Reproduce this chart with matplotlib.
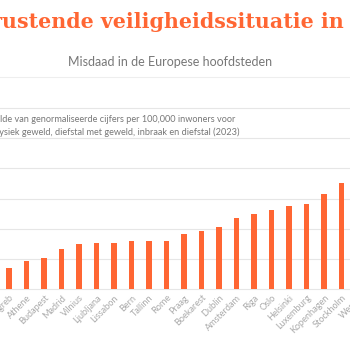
import matplotlib
matplotlib.use("Agg")
from matplotlib import pyplot as plt

cities = ["Zagreb", "Athene", "Budapest", "Madrid", "Vilnius", "Ljubljana",
          "Lissabon", "Bern", "Tallinn", "Rome", "Praag", "Boekarest", "Dublin",
          "Amsterdam", "Riga", "Oslo", "Helsinki", "Luxemburg", "Kopenhagen",
          "Stockholm", "Wenen"]
scores = [0.69, 0.93, 1.02, 1.34, 1.50, 1.51, 1.52, 1.60, 1.60, 1.60, 1.83,
          1.92, 2.07, 2.36, 2.49, 2.62, 2.76, 2.82, 3.14, 3.52, 3.85]
grid_values = [1, 2, 3, 4, 5, 6]

title = "Verontrustende veiligheidssituatie in"
title_end = "Wenen"
subtitle = "Misdaad in de Europese hoofdsteden"
note_1 = "Gemiddelde van genormaliseerde cijfers per 100,000 inwoners voor"
note_2 = "fysiek geweld, diefstal met geweld, inbraak en diefstal (2023)"

orange = "#ff6633"
W = H = 350

fig = plt.figure(figsize=(3.5, 3.5), dpi=100)
fig.patch.set_facecolor("white")

# axes wider than the canvas: the screenshot is cropped on both sides
px_per_bar = 17.5
x0_px = 9  # pixel centre of first bar
xlim = (-1.0, 21.0)
left_px = x0_px + xlim[0] * px_per_bar
width_px = (xlim[1] - xlim[0]) * px_per_bar
base_px = 289
top_px = 108
ax = fig.add_axes([left_px / W, (H - base_px) / H, width_px / W, (base_px - top_px) / H])
ax.set_xlim(*xlim)
ax.set_ylim(0, 6)

ax.bar(range(len(cities)), scores, width=0.3, color=orange, zorder=3)
for g in [0] + grid_values:
    fig.add_artist(plt.Line2D([0, 1], [(H - base_px + g * (base_px - top_px) / 6) / H] * 2,
                              color="#e6e6e6", lw=0.8, zorder=0))

ax.set_xticks(range(len(cities)))
ax.set_xticklabels(cities, rotation=45, ha="right", rotation_mode="anchor",
                   fontsize=6.6, color="#aaaaaa", family="Lato")
ax.tick_params(axis="x", length=0, pad=3)
ax.set_yticks([])
for s in ax.spines.values():
    s.set_visible(False)
ax.patch.set_alpha(0)

fig.text(344 / W, 1 - 28 / H, title, ha="right", va="baseline", fontsize=14.8,
         fontweight="bold", family="DejaVu Serif", color=orange)
fig.text(353 / W, 1 - 28 / H, title_end, ha="left", va="baseline", fontsize=14.8,
         fontweight="bold", family="DejaVu Serif", color=orange)
fig.text(170 / W, 1 - 62 / H, subtitle, ha="center", va="center", fontsize=9,
         family="Lato", color="#777777")
fig.add_artist(plt.Line2D([0, 1], [1 - 77 / H] * 2, color="#eeeeee", lw=0.8))
fig.text(235 / W, 1 - 119 / H, note_1, ha="right", va="center", fontsize=6.6,
         family="Lato", color="#777777")
fig.text(239 / W, 1 - 132 / H, note_2, ha="right", va="center", fontsize=6.6,
         family="Lato", color="#777777")

fig.savefig("out.png", dpi=100)
